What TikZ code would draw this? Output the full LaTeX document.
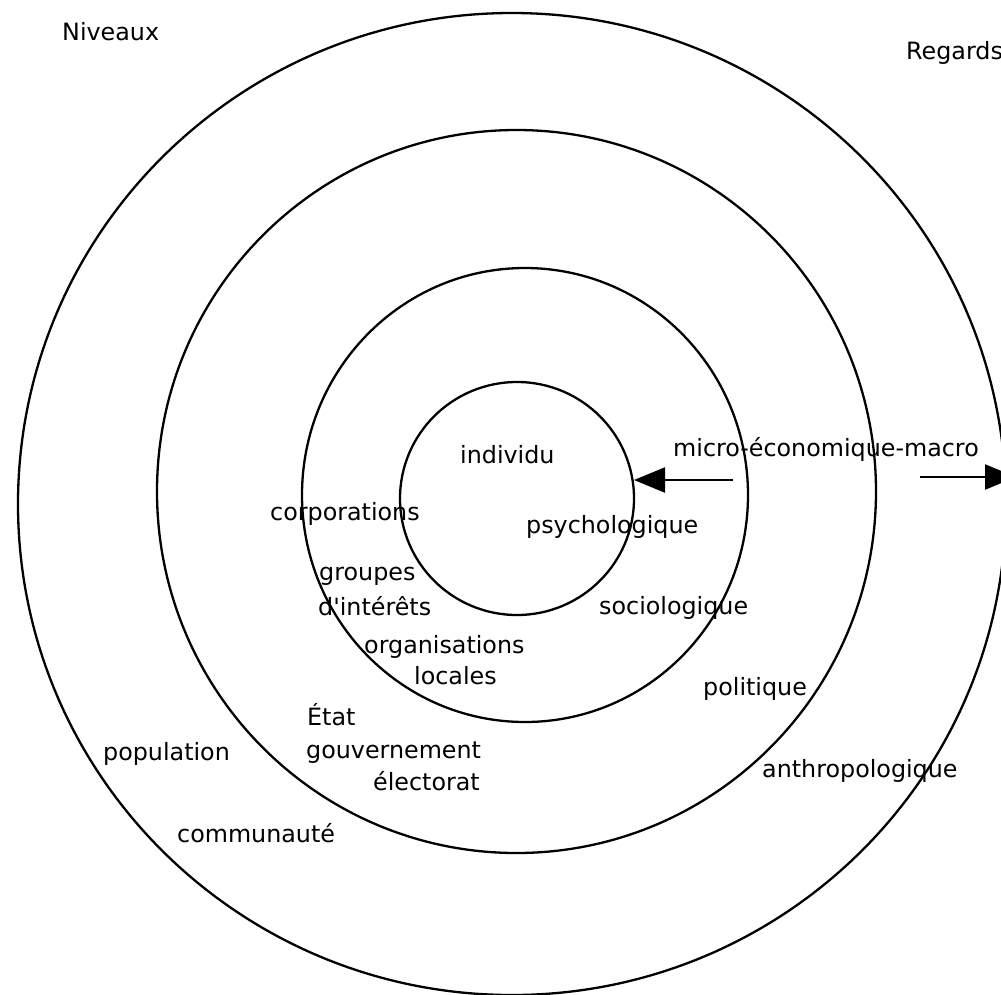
\documentclass[tikz,border=0pt]{standalone}
\usepackage{fontspec}
\setmainfont{DejaVu Sans}
\usetikzlibrary{shapes.geometric,arrows.meta}
\begin{document}
\begin{tikzpicture}[x=1pt,y=-1pt,
  ring/.style={draw=black,line width=2.3pt,ellipse,inner sep=0pt,outer sep=0pt},
  lbl/.style={anchor=base west,inner sep=0pt,font=\fontsize{23.8}{28}\selectfont},
  arr/.style={draw=black,line width=2.3pt,-{Triangle[length=31pt,width=25pt]}}]
\useasboundingbox (0,0) rectangle (1001,994);
\clip (0,0) rectangle (1001,994);
\fill[white] (0,0) rectangle (1001,994);
% rings
\node[ring,minimum width=988pt,minimum height=982pt] (c4) at (512,504) {};
\node[ring,minimum width=719pt,minimum height=723pt] (c3) at (516.5,491.5) {};
\node[ring,minimum width=446pt,minimum height=454pt] (c2) at (525,495) {};
\node[ring,minimum width=234pt,minimum height=233pt] (c1) at (517,498.5) {};
% labels
\node[lbl] (niveaux) at (62,40) {Niveaux};
\node[lbl] (regards) at (906,59) {Regards};
\node[lbl] (individu) at (460,463) {individu};
\node[lbl] (psycho) at (526,533) {psychologique};
\node[lbl] (micro) at (673,456) {micro-économique-macro};
\node[lbl] (corpo) at (270,520) {corporations};
\node[lbl] (groupes) at (319,580) {groupes};
\node[lbl] (interets) at (318,615) {d\textquotesingle intérêts};
\node[lbl] (orga) at (364,653) {organisations};
\node[lbl] (locales) at (414,684) {locales};
\node[lbl] (socio) at (599,614) {sociologique};
\node[lbl] (etat) at (307,725) {État};
\node[lbl] (gouv) at (306,758) {gouvernement};
\node[lbl] (elect) at (373,790) {électorat};
\node[lbl] (popul) at (103,760) {population};
\node[lbl] (commu) at (177,842) {communauté};
\node[lbl] (politique) at (703,695) {politique};
\node[lbl] (anthro) at (762,777) {anthropologique};
% arrows
\coordinate (la) at (733,480);
\coordinate (ra) at (920,477);
\coordinate (rb) at (1016,477);
\draw[arr] (la) -- (c1.east |- la);
\draw[arr] (ra) -- (rb);
\end{tikzpicture}
\end{document}
